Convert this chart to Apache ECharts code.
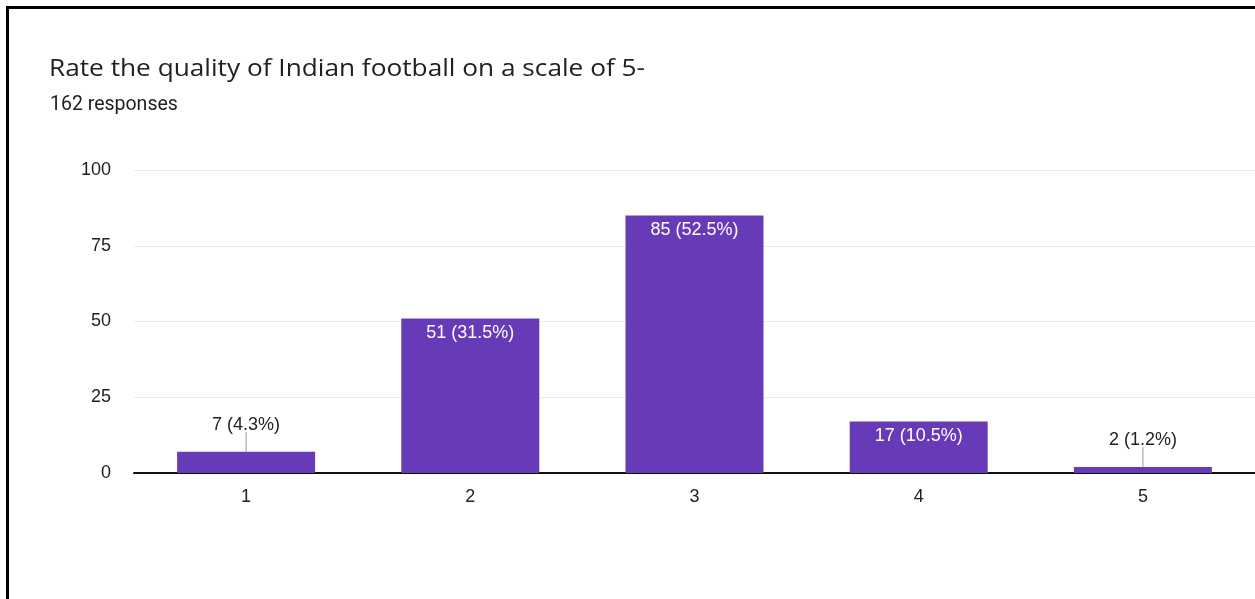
<!DOCTYPE html>
<html>
<head>
<meta charset="utf-8">
<script src="https://cdn.jsdelivr.net/npm/echarts@6/dist/echarts.min.js"></script>
<style>
  html, body { margin: 0; padding: 0; background: #fff; }
  #frame { position: absolute; left: 6px; top: 6px; width: 1249px; height: 593px;
           border-top: 3px solid #000; border-left: 3px solid #000; box-sizing: border-box; }
  #chart { position: absolute; left: 0; top: 0; width: 1255px; height: 599px; }
</style>
</head>
<body>
<div id="frame"></div>
<div id="chart"></div>
<script>
// Survey results: rating of Indian football (1 to 5)
const titleText = 'Rate the quality of Indian football on a scale of 5-';
const subtitleText = '162 responses';
const categories = ['1', '2', '3', '4', '5'];
const counts = [7, 51, 85, 17, 2];
const percents = [4.3, 31.5, 52.5, 10.5, 1.2];
const yTicks = [0, 25, 50, 75, 100];

const purple = '#673ab7';
const smallThreshold = 10;   // bars shorter than this get their label above, with a leader
const leaderLength = 20;
const numFont = 'Liberation Sans, Arial, sans-serif';

// Title is drawn wide: stretch it horizontally to its target width
const titleFont = '23px "Open Sans"';
const titleWidth = 596;
const measureCtx = document.createElement('canvas').getContext('2d');

function titleScale() {
  measureCtx.font = titleFont;
  const w = measureCtx.measureText(titleText).width;
  return w > 0 ? titleWidth / w : 1;
}

const barData = counts.map(v => {
  const small = v < smallThreshold;
  return {
    value: v,
    label: small
      ? { position: 'top', distance: leaderLength - 2, color: '#222' }
      : { position: 'insideTop', distance: 6, color: '#fff' }
  };
});

const leaderData = counts
  .map((v, i) => [i, v])
  .filter(d => d[1] < smallThreshold);

const chart = echarts.init(document.getElementById('chart'), null, { renderer: 'canvas' });

function draw() {
  chart.setOption({
    backgroundColor: 'transparent',
    animation: false,
    graphic: [{
      type: 'text',
      x: 49, y: 69,
      scaleX: titleScale(), scaleY: 1,
      style: {
        text: titleText,
        font: titleFont,
        fill: '#202124',
        verticalAlign: 'middle'
      }
    }, {
      type: 'text',
      x: 50, y: 105,
      style: {
        text: subtitleText,
        font: '19.5px Roboto',
        fill: '#202124',
        verticalAlign: 'middle'
      }
    }],
    grid: { left: 134, right: 0, top: 170, bottom: 126, containLabel: false },
    xAxis: {
      type: 'category',
      data: categories,
      axisLine: { show: true, lineStyle: { color: '#111', width: 2 } },
      axisTick: { show: false },
      axisLabel: { margin: 15, fontFamily: numFont, fontSize: 18, color: '#222' }
    },
    yAxis: {
      type: 'value',
      min: yTicks[0], max: yTicks[yTicks.length - 1], interval: 25,
      axisLine: { show: false },
      axisTick: { show: false },
      splitLine: { lineStyle: { color: '#ebebeb', width: 1 } },
      axisLabel: { margin: 23, fontFamily: numFont, fontSize: 18, color: '#222' }
    },
    series: [{
      type: 'bar',
      data: barData,
      barWidth: 138,
      itemStyle: { color: purple },
      label: {
        show: true,
        fontFamily: numFont,
        fontSize: 18,
        formatter: p => p.value + ' (' + percents[p.dataIndex].toFixed(1) + '%)'
      },
      z: 2
    }, {
      // leader lines linking outside labels to their short bars
      type: 'custom',
      data: leaderData,
      silent: true,
      z: 3,
      renderItem: (params, api) => {
        const p = api.coord([api.value(0), api.value(1)]);
        return {
          type: 'line',
          shape: { x1: p[0], y1: p[1], x2: p[0], y2: p[1] - leaderLength },
          style: { stroke: '#999', lineWidth: 1 }
        };
      }
    }]
  });
}

draw();
if (document.fonts && document.fonts.load) {
  document.fonts.load(titleFont).then(draw, draw);
}
</script>
</body>
</html>
